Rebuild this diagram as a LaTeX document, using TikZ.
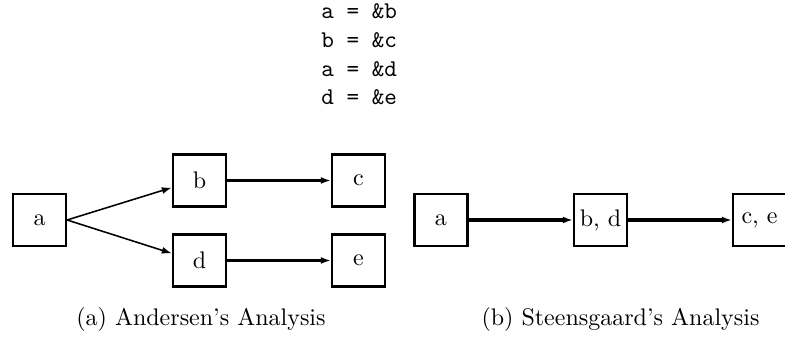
\documentclass[tikz,border=0pt]{standalone}
\usepackage{fontspec}
\usetikzlibrary{arrows.meta,calc}
\begin{document}
\begin{tikzpicture}[x=0.41667pt,y=-0.41667pt,
  box/.style={draw, line width=0.9pt, minimum width=22.1pt, minimum height=21.7pt, inner sep=0pt},
  myarrowtip/.style={-{Latex[length=4.2pt,width=2.9pt]}},
  thinarrow/.style={myarrowtip, line width=0.65pt},
  midarrow/.style={myarrowtip, line width=0.85pt},
  thickarrow/.style={myarrowtip, line width=1.3pt},
  codetext/.style={font=\ttfamily\addfontfeature{LetterSpace=14}, anchor=base west, inner sep=0pt},
  captext/.style={anchor=base, inner sep=0pt}]
\useasboundingbox (0,0) rectangle (785,337);
% code
\node[codetext] (l1) at (321,18.5) {a = \&b};
\node[codetext] (l2) at (321,47.3) {b = \&c};
\node[codetext] (l3) at (321,76.1) {a = \&d};
\node[codetext] (l4) at (321,104.9) {d = \&e};
% Andersen
\node[box] (a) at (39.5,220) {a};
\node[box] (b) at (199.5,180.5) {b};
\node[box] (d) at (199.5,260.5) {d};
\node[box] (c) at (358.5,180.5) {c};
\node[box] (e) at (358.5,260.5) {e};
\draw[thinarrow] (a.east) -- ($(b.north west)!0.63!(b.south west)$);
\draw[thinarrow] (a.east) -- ($(d.north west)!0.37!(d.south west)$);
\draw[midarrow] (b) -- (c);
\draw[midarrow] (d) -- (e);
% Steensgaard
\node[box] (a2) at (441,220) {a};
\node[box] (bd) at (600.5,220) {b, d};
\node[box] (ce) at (759.5,220) {c, e};
\draw[thickarrow] (a2) -- (bd);
\draw[thickarrow] (bd) -- (ce);
% captions
\node[captext] (capa) at (201,326) {(a) Andersen's Analysis};
\node[captext] (capb) at (620.5,326) {(b) Steensgaard's Analysis};
\end{tikzpicture}
\end{document}
